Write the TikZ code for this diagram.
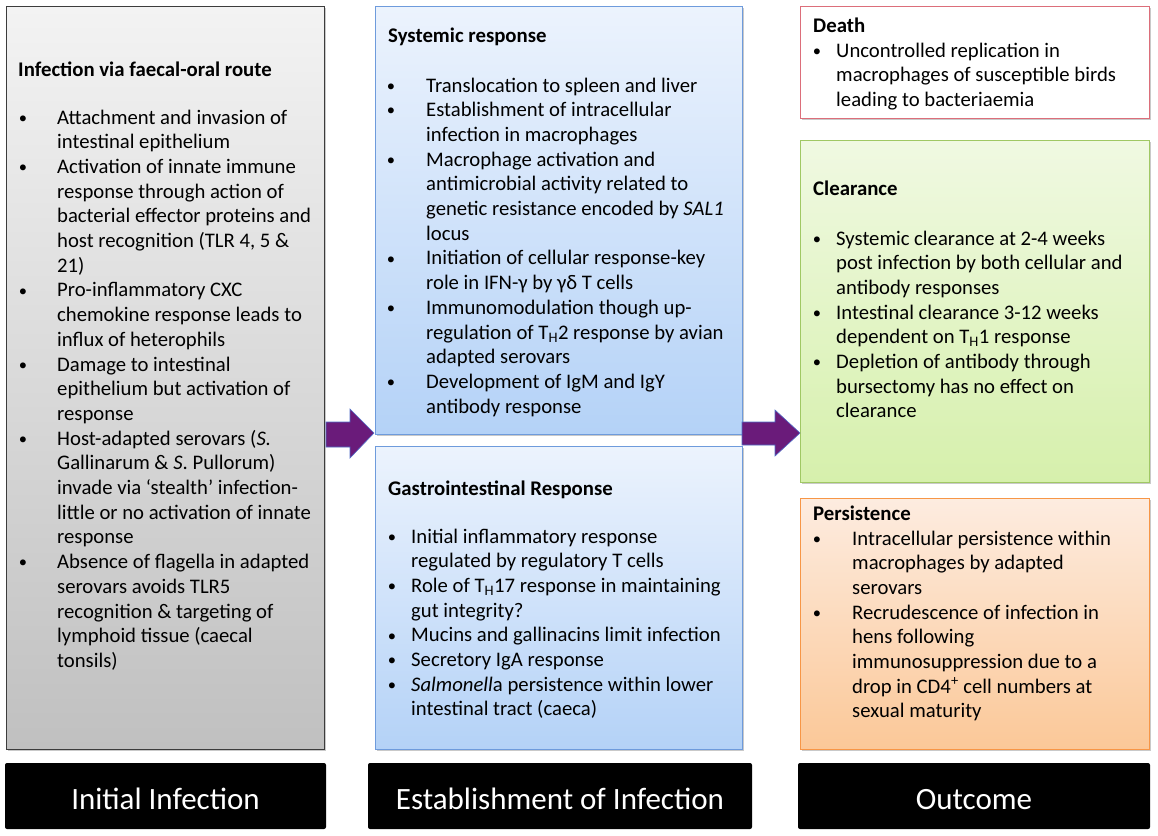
\documentclass[tikz,border=0pt]{standalone}
\usepackage{graphicx}
\usepackage{fontspec}
\setmainfont{Carlito}
\usetikzlibrary{shadows,calc}
\definecolor{grayTop}{RGB}{243,243,243}
\definecolor{grayBot}{RGB}{192,192,192}
\definecolor{grayBorder}{RGB}{60,60,60}
\definecolor{blueTop}{RGB}{236,243,253}
\definecolor{blueBot}{RGB}{180,210,247}
\definecolor{blueBorder}{RGB}{110,155,220}
\definecolor{redBorder}{RGB}{220,110,122}
\definecolor{greenTop}{RGB}{240,249,226}
\definecolor{greenBot}{RGB}{214,240,172}
\definecolor{greenBorder}{RGB}{160,200,100}
\definecolor{peachTop}{RGB}{253,236,224}
\definecolor{peachBot}{RGB}{251,200,152}
\definecolor{peachBorder}{RGB}{247,150,70}
\definecolor{arrowFill}{RGB}{106,27,122}
\definecolor{arrowLine}{RGB}{80,110,200}
\newlength\ind
\newcommand\mybullet{\hspace*{0.6pt}\raisebox{0.8pt}{\scalebox{0.8}{\textbullet}}}
\newcommand\bu[1]{\hbox{\makebox[\ind][l]{\mybullet}#1}}
\newcommand\co[1]{\hbox{\hspace*{\ind}#1}}
\newcommand\Thelp{T\textsubscript{H}}
\begin{document}
\begin{tikzpicture}[x=1pt,y=-1pt,
  box/.style={draw, line width=1pt, anchor=north west, inner sep=0pt, outer sep=0pt,
    drop shadow={shadow xshift=1.5pt, shadow yshift=-2pt, opacity=0.35, fill=black!60}},
  bar/.style={fill=black, rounded corners=2pt, anchor=north west, inner sep=0pt, outer sep=0pt},
  bartext/.style={text=white, font=\fontsize{31}{36}\selectfont, anchor=base, inner sep=0pt},
  head/.style={anchor=base west, inner sep=0pt, font=\fontsize{20.8}{24.7}\selectfont\bfseries},
  txt/.style={anchor=base west, inner sep=0pt, font=\fontsize{20.7}{24.7}\selectfont},
  blockarrow/.style={fill=arrowFill, draw=arrowLine, line width=0.6pt, line join=miter}]
\useasboundingbox (0,0) rectangle (1158,835);
\fill[white] (0,0) rectangle (1158,835);

% boxes
\node[box, draw=grayBorder, top color=grayTop, bottom color=grayBot, minimum width=318pt, minimum height=743pt] (L) at (6,6) {};
\node[box, draw=blueBorder, top color=blueTop, bottom color=blueBot, minimum width=367pt, minimum height=428pt] (S) at (375,6) {};
\node[box, draw=blueBorder, top color=blueTop, bottom color=blueBot, minimum width=367pt, minimum height=303pt] (G) at (375,446) {};
\node[box, draw=redBorder, fill=white, minimum width=349pt, minimum height=112pt] (D) at (800,6) {};
\node[box, draw=greenBorder, top color=greenTop, bottom color=greenBot, minimum width=349pt, minimum height=342pt] (C) at (800,140) {};
\node[box, draw=peachBorder, top color=peachTop, bottom color=peachBot, minimum width=349pt, minimum height=251pt] (P) at (800,498) {};

% bottom bars
\node[bar, minimum width=321pt, minimum height=66pt] (B1) at (5,763) {};
\node[bar, minimum width=384pt, minimum height=66pt] (B2) at (368,763) {};
\node[bar, minimum width=352pt, minimum height=66pt] (B3) at (798,763) {};
\node[bartext] (B1t) at ($(B1.north)+(0,46)$) {Initial Infection};
\node[bartext] (B2t) at ($(B2.north)+(0,46)$) {Establishment of Infection};
\node[bartext] (B3t) at ($(B3.north)+(0,46)$) {Outcome};

% arrows
\draw[blockarrow] (326,422) -- (350,422) -- (350,409) -- (374,433) -- (350,458) -- (350,447) -- (326,447) -- cycle;
\draw[blockarrow] (742,422) -- (775,422) -- (775,410) -- (800,433) -- (775,456) -- (775,445) -- (742,445) -- cycle;

% left box text
\node[head] (Lh) at (18,76) {Infection via faecal-oral route};
\node[txt] (Lt) at (18,124) {\setlength\ind{39pt}\vtop{%
\bu{Attachment and invasion of}
\co{intestinal epithelium}
\bu{Activation of innate immune}
\co{response through action of}
\co{bacterial effector proteins and}
\co{host recognition (TLR 4, 5 \&}
\co{21)}
\bu{Pro-inflammatory CXC}
\co{chemokine response leads to}
\co{influx of heterophils}
\bu{Damage to intestinal}
\co{epithelium but activation of}
\co{response}
\bu{Host-adapted serovars (\textit{S.}}
\co{Gallinarum \& \textit{S}. Pullorum)}
\co{invade via ‘stealth’ infection-}
\co{little or no activation of innate}
\co{response}
\bu{Absence of flagella in adapted}
\co{serovars avoids TLR5}
\co{recognition \& targeting of}
\co{lymphoid tissue (caecal}
\co{tonsils)}}};

% systemic
\node[head] (Sh) at (388,42) {Systemic response};
\node[txt] (St) at (386,92) {\setlength\ind{40pt}\vtop{%
\bu{Translocation to spleen and liver}
\bu{Establishment of intracellular}
\co{infection in macrophages}
\bu{Macrophage activation and}
\co{antimicrobial activity related to}
\co{genetic resistance encoded by \textit{SAL1}}
\co{locus}
\bu{Initiation of cellular response-key}
\co{role in IFN-γ by γδ T cells}
\bu{Immunomodulation though up-}
\co{regulation of \Thelp2 response by avian}
\co{adapted serovars}
\bu{Development of IgM and IgY}
\co{antibody response}}};

% gastro
\node[head] (Gh) at (388,495) {Gastrointestinal Response};
\node[txt] (Gt) at (387,543) {\setlength\ind{24pt}\vtop{%
\bu{Initial inflammatory response}
\co{regulated by regulatory T cells}
\bu{Role of \Thelp17 response in maintaining}
\co{gut integrity?}
\bu{Mucins and gallinacins limit infection}
\bu{Secretory IgA response}
\bu{\textit{Salmonell}a persistence within lower}
\co{intestinal tract (caeca)}}};

% death
\node[head] (Dh) at (813,32) {Death};
\node[txt] (Dt) at (812,57) {\setlength\ind{24pt}\vtop{%
\bu{Uncontrolled replication in}
\co{macrophages of susceptible birds}
\co{leading to bacteriaemia}}};

% clearance
\node[head] (Ch) at (813,195) {Clearance};
\node[txt] (Ct) at (812,245) {\setlength\ind{24pt}\vtop{%
\bu{Systemic clearance at 2-4 weeks}
\co{post infection by both cellular and}
\co{antibody responses}
\bu{Intestinal clearance 3-12 weeks}
\co{dependent on \Thelp1 response}
\bu{Depletion of antibody through}
\co{bursectomy has no effect on}
\co{clearance}}};

% persistence
\node[head] (Ph) at (813,520) {Persistence};
\node[txt] (Pt) at (812,545) {\setlength\ind{40pt}\vtop{%
\bu{Intracellular persistence within}
\co{macrophages by adapted}
\co{serovars}
\bu{Recrudescence of infection in}
\co{hens following}
\co{immunosuppression due to a}
\co{drop in CD4\textsuperscript{+} cell numbers at}
\co{sexual maturity}}};
\end{tikzpicture}
\end{document}
